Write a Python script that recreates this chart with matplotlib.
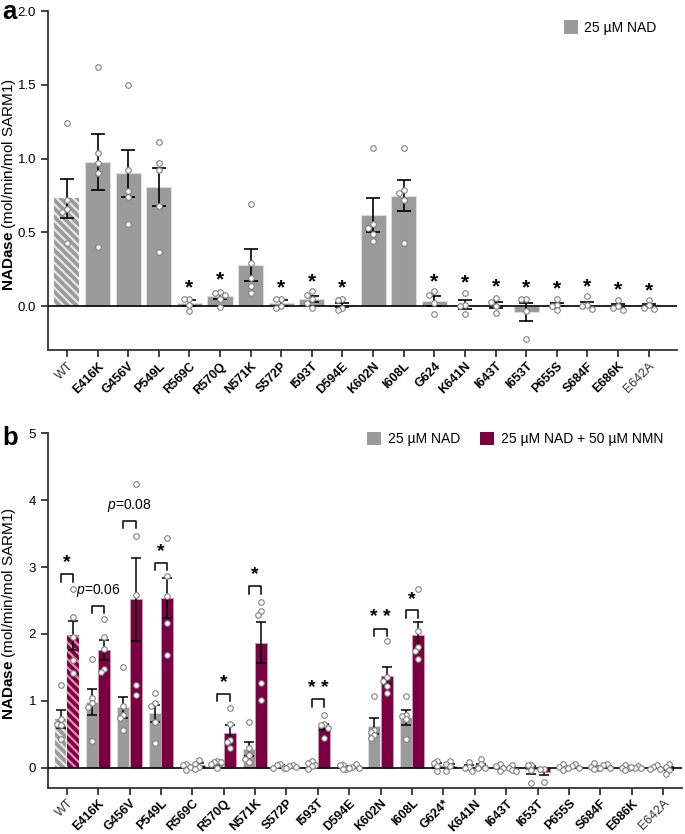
import numpy as np
import matplotlib
matplotlib.use('Agg')
import matplotlib.pyplot as plt
from matplotlib.patches import Patch

plt.rcParams['font.family'] = ['Liberation Sans', 'DejaVu Sans']
plt.rcParams['mathtext.fontset'] = 'custom'
plt.rcParams['mathtext.rm'] = 'Liberation Sans'
plt.rcParams['mathtext.bf'] = 'Liberation Sans:bold'
plt.rcParams['mathtext.it'] = 'Liberation Sans:italic'
plt.rcParams['hatch.linewidth'] = 1.6

# ---- data ----
labels_a = ['WT', 'E416K', 'G456V', 'P549L', 'R569C', 'R570Q', 'N571K', 'S572P', 'I593T', 'D594E',
            'K602N', 'I608L', 'G624', 'K641N', 'I643T', 'I653T', 'P655S', 'S684F', 'E686K', 'E642A']
labels_b = ['WT', 'E416K', 'G456V', 'P549L', 'R569C', 'R570Q', 'N571K', 'S572P', 'I593T', 'D594E',
            'K602N', 'I608L', 'G624*', 'K641N', 'I643T', 'I653T', 'P655S', 'S684F', 'E686K', 'E642A']

nad_mean = [0.73, 0.98, 0.90, 0.81, 0.02, 0.065, 0.28, 0.02, 0.045, 0.008,
            0.62, 0.75, 0.035, 0.01, 0.008, -0.04, 0.01, 0.01, 0.005, 0.005]
nad_sem = [0.135, 0.19, 0.16, 0.13, 0.02, 0.018, 0.11, 0.018, 0.02, 0.015,
           0.115, 0.105, 0.035, 0.032, 0.022, 0.062, 0.012, 0.016, 0.012, 0.01]
nad_pts = [[1.24, 0.72, 0.66, 0.64, 0.43],
           [1.62, 1.04, 0.97, 0.90, 0.40],
           [1.50, 0.92, 0.78, 0.74, 0.56],
           [1.11, 0.97, 0.92, 0.68, 0.37],
           [0.05, 0.045, 0.01, -0.035],
           [0.095, 0.09, 0.078, 0.05, -0.005],
           [0.69, 0.29, 0.19, 0.135, 0.09],
           [0.048, 0.045, 0.0, -0.01],
           [0.10, 0.077, 0.045, 0.02, -0.015],
           [0.045, 0.04, -0.015, -0.027],
           [1.07, 0.56, 0.53, 0.49, 0.44],
           [1.07, 0.79, 0.77, 0.72, 0.43],
           [0.10, 0.072, 0.023, -0.056],
           [0.09, 0.005, 0.0, -0.055],
           [0.056, 0.027, 0.0, -0.05],
           [0.047, 0.045, -0.034, -0.224],
           [0.05, 0.005, 0.0, -0.03],
           [0.066, 0.005, 0.0, -0.023],
           [0.04, 0.0, -0.01, -0.03],
           [0.04, 0.005, -0.015, -0.02]]

nmn_mean = [1.98, 1.76, 2.52, 2.54, 0.04, 0.525, 1.87, 0.02, 0.61, 0.01,
            1.375, 1.98, 0.03, 0.035, -0.02, -0.065, 0.015, 0.02, 0.005, -0.01]
nmn_sem = [0.22, 0.15, 0.62, 0.30, 0.025, 0.115, 0.31, 0.01, 0.045, 0.01,
           0.13, 0.20, 0.02, 0.025, 0.01, 0.045, 0.008, 0.01, 0.008, 0.02]
nmn_pts = [[2.67, 2.25, 1.96, 1.61, 1.41],
           [2.22, 1.96, 1.77, 1.48, 1.43],
           [4.24, 3.47, 2.58, 1.24, 1.08],
           [3.43, 2.86, 2.57, 2.17, 1.69],
           [0.12, 0.055, 0.015, -0.015],
           [0.89, 0.65, 0.42, 0.39, 0.30],
           [2.48, 2.34, 2.28, 1.27, 1.01],
           [0.04, 0.03, 0.01, 0.0],
           [0.78, 0.65, 0.64, 0.60, 0.44],
           [0.05, 0.015, -0.01, 0.0],
           [1.89, 1.35, 1.30, 1.22, 1.12],
           [2.67, 2.05, 1.80, 1.74, 1.63],
           [0.10, 0.06, 0.02, -0.045],
           [0.13, 0.06, 0.0, -0.01],
           [0.04, 0.0, -0.04, -0.05],
           [-0.015, -0.02, -0.21],
           [0.05, 0.03, 0.0, -0.01],
           [0.06, 0.04, 0.0, -0.01],
           [0.03, 0.0, -0.01, 0.005],
           [0.05, 0.015, -0.035, -0.095]]

# significance stars in panel a: (bar index, height)
stars_a = [(4, 0.12), (5, 0.18), (7, 0.12), (8, 0.165), (9, 0.125), (12, 0.165), (13, 0.155),
           (14, 0.13), (15, 0.12), (16, 0.115), (17, 0.13), (18, 0.11), (19, 0.10)]
# brackets in panel b: (bar index, bracket height, label)
brackets_b = [(0, 2.89, '*'), (1, 2.42, r'$\it{p}$=0.06'), (2, 3.69, r'$\it{p}$=0.08'),
              (3, 3.06, '*'), (5, 1.10, '*'), (6, 2.71, '*'), (8, 1.02, '* *'),
              (10, 2.08, '* *'), (11, 2.35, '*')]

GRAY = '#9b9b9b'
RED = '#7b0041'
SPINE = '#333333'


def spread(vals, step, tol):
    """simple beeswarm-style horizontal offsets"""
    cands = [0, -1, 1, -2, 2, -3, 3]
    placed = []
    offs = []
    for v in vals:
        used = [o for pv, o in placed if abs(pv - v) < tol]
        for c in cands:
            if c not in used:
                break
        placed.append((v, c))
        offs.append(c * step)
    return offs


def draw_points(ax, x, vals, step, tol):
    offs = spread(vals, step, tol)
    ax.plot(np.array(offs) + x, vals, 'o', ms=4, mfc='white', mec='#7f7f7f', mew=0.8,
            zorder=5, clip_on=False)


def style_axes(ax, labels):
    for s in ['top', 'right']:
        ax.spines[s].set_visible(False)
    for s in ['left', 'bottom']:
        ax.spines[s].set_linewidth(1.3)
        ax.spines[s].set_color(SPINE)
    ax.tick_params(direction='out', length=5, width=1.3, color=SPINE, labelsize=9.5)
    ax.tick_params(axis='x', pad=2)
    ax.axhline(0, color='black', lw=1.2, zorder=4)
    ax.set_xticks(np.arange(len(labels)))
    ax.set_xticklabels(labels, rotation=45, ha='right', rotation_mode='anchor', fontsize=9)
    for t in ax.get_xticklabels():
        if t.get_text() in ('WT', 'E642A'):
            t.set_fontweight('normal')
            t.set_color('#333333')
        else:
            t.set_fontweight('bold')
    ax.set_ylabel(r'$\mathbf{NADase}$ (mol/min/mol SARM1)', fontsize=11)
    ax.yaxis.set_label_coords(-0.047, 0.49)


fig = plt.figure(figsize=(6.85, 8.34), dpi=100)

# ---------------- panel a ----------------
ax1 = fig.add_axes([0.070, 0.580, 0.918, 0.4065])
x = np.arange(len(labels_a))
for i in x:
    if i == 0:
        ax1.bar(i, nad_mean[i], width=0.82, color=GRAY, edgecolor='#e6e6e6', hatch='\\\\\\\\',
                linewidth=0, zorder=2)
    else:
        ax1.bar(i, nad_mean[i], width=0.82, color=GRAY, edgecolor='#dddddd', linewidth=0.8, zorder=2)
ax1.errorbar(x, nad_mean, yerr=nad_sem, fmt='none', ecolor='black', elinewidth=1.2,
             capsize=5, capthick=1.2, zorder=4)
for i in x:
    draw_points(ax1, i, nad_pts[i], 0.16, 0.034)
for i, h in stars_a:
    ax1.text(i, h, '*', ha='center', va='center', fontsize=15, fontweight='bold')
ax1.set_xlim(-0.62, 19.92)
ax1.set_ylim(-0.3, 2.0)
ax1.set_yticks([0.0, 0.5, 1.0, 1.5, 2.0])
ax1.set_yticklabels(['0.0', '0.5', '1.0', '1.5', '2.0'])
style_axes(ax1, labels_a)
ax1.legend(handles=[Patch(facecolor=GRAY, edgecolor='none', label='25 µM NAD')],
           loc='upper right', bbox_to_anchor=(0.988, 1.01), frameon=False, fontsize=10,
           handlelength=1.0, handleheight=1.1, handletextpad=0.5)
fig.text(0.004, 0.9775, 'a', fontsize=18.5, fontweight='bold', va='baseline')

# ---------------- panel b ----------------
ax2 = fig.add_axes([0.070, 0.0555, 0.9256, 0.425])
w = 0.38
for i in x:
    if i == 0:
        ax2.bar(i - 0.2, nad_mean[i], width=w, color=GRAY, edgecolor='#e6e6e6',
                hatch='\\\\\\\\', linewidth=0, zorder=2)
        ax2.bar(i + 0.2, nmn_mean[i], width=w, color=RED, edgecolor='#e98ab5',
                hatch='\\\\\\\\', linewidth=0, zorder=2)
    else:
        ax2.bar(i - 0.2, nad_mean[i], width=w, color=GRAY, edgecolor='#dddddd', linewidth=0.6, zorder=2)
        ax2.bar(i + 0.2, nmn_mean[i], width=w, color=RED, edgecolor='#c9a0b4', linewidth=0.6, zorder=2)
ax2.errorbar(x - 0.2, nad_mean, yerr=nad_sem, fmt='none', ecolor='black', elinewidth=1.1,
             capsize=3.5, capthick=1.1, zorder=4)
ax2.errorbar(x + 0.2, nmn_mean, yerr=nmn_sem, fmt='none', ecolor='black', elinewidth=1.1,
             capsize=3.5, capthick=1.1, zorder=4)
for i in x:
    draw_points(ax2, i - 0.2, nad_pts[i], 0.11, 0.07)
    draw_points(ax2, i + 0.2, nmn_pts[i], 0.11, 0.07)
for i, h, lab in brackets_b:
    ax2.plot([i - 0.2, i - 0.2, i + 0.2, i + 0.2], [h - 0.11, h, h, h - 0.11],
             color='black', lw=1.1, zorder=5)
    if 'p' in lab:
        ax2.text(i, h + 0.1, lab, ha='center', va='bottom', fontsize=10)
    else:
        ax2.text(i, h + 0.17, lab, ha='center', va='center', fontsize=14, fontweight='bold')
ax2.set_xlim(-0.6, 19.6)
ax2.set_ylim(-0.3, 5.0)
ax2.set_yticks([0, 1, 2, 3, 4, 5])
style_axes(ax2, labels_b)
ax2.legend(handles=[Patch(facecolor=GRAY, edgecolor='none', label='25 µM NAD'),
                    Patch(facecolor=RED, edgecolor='none', label='25 µM NAD + 50 µM NMN')],
           loc='upper right', bbox_to_anchor=(0.99, 1.04), frameon=False, fontsize=10, ncol=2,
           handlelength=1.0, handleheight=1.1, handletextpad=0.5, columnspacing=1.4)
fig.text(0.004, 0.4664, 'b', fontsize=18.5, fontweight='bold', va='baseline')

fig.savefig('out.png', dpi=100)
